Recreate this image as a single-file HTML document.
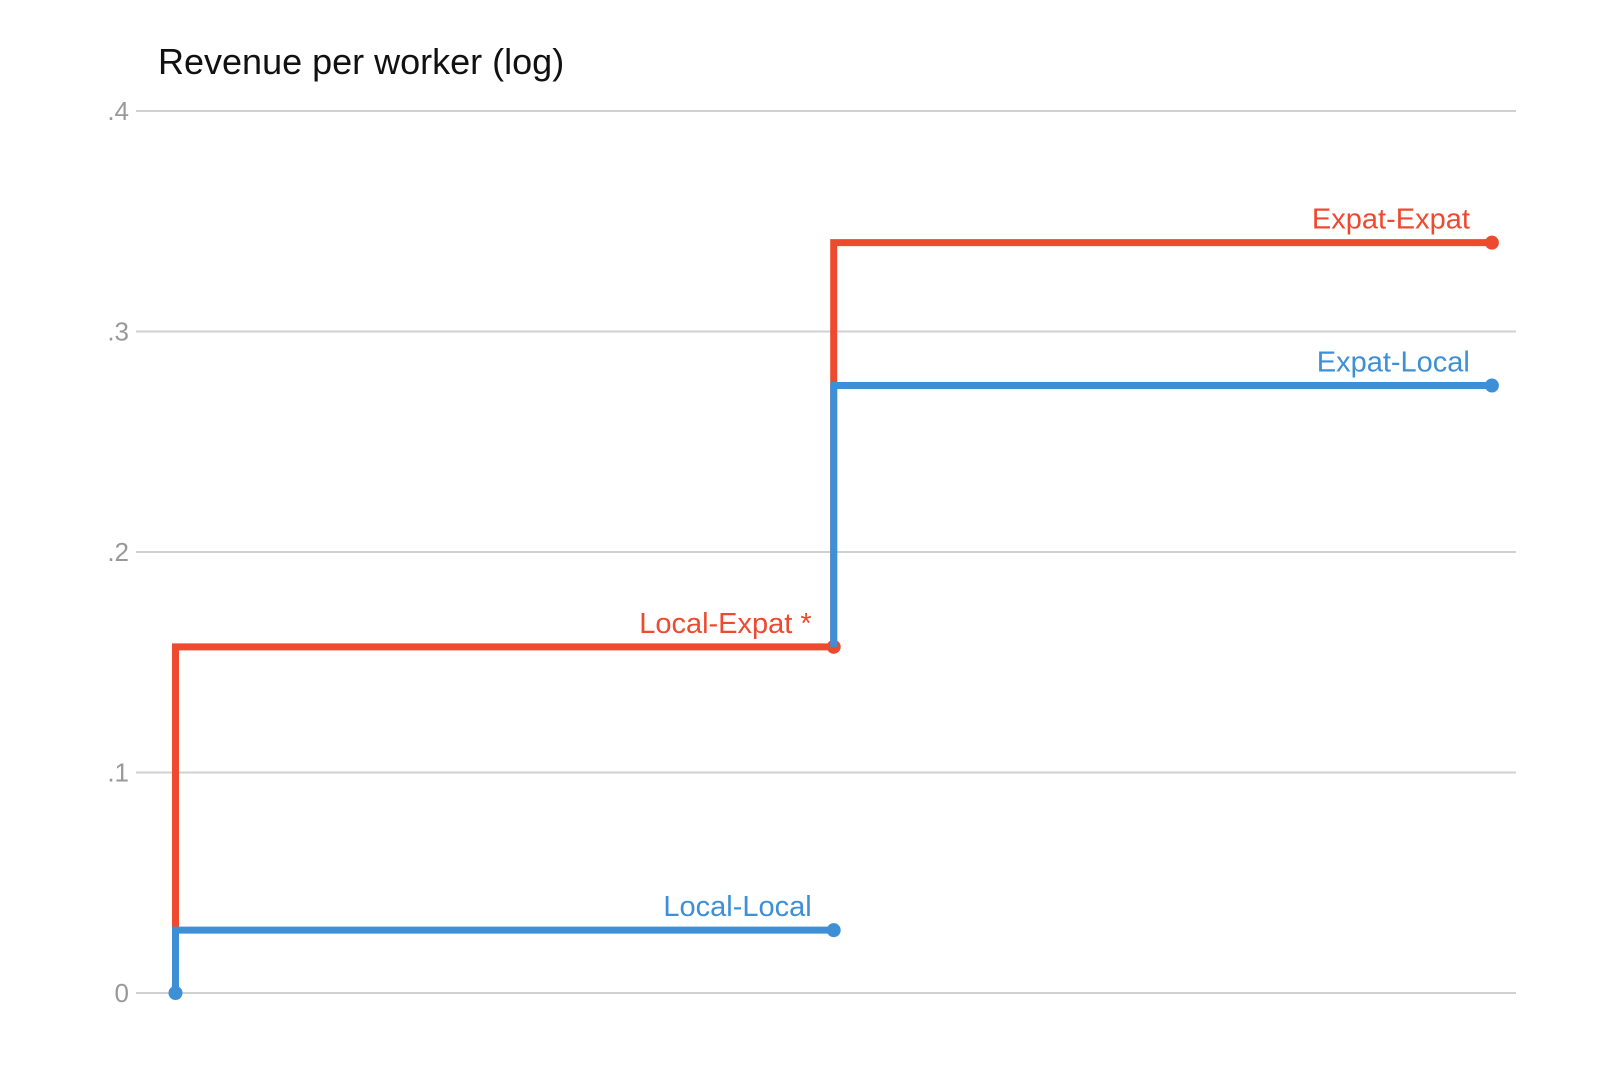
<!DOCTYPE html>
<html><head><meta charset="utf-8"><style>
html,body{margin:0;padding:0;background:#fff;}
svg{display:block;font-family:"Liberation Sans",Arial,sans-serif;}
</style></head><body>
<svg id="chart" width="1600" height="1066">
<text x="158" y="74" font-size="36" fill="#111">Revenue per worker (log)</text>
<g id="grid"></g><g id="series"></g><g id="labels"></g>
</svg>
<script>
const tickValues=[0,0.1,0.2,0.3,0.4];
const tickLabels=["0",".1",".2",".3",".4"];
const seriesNames=["Local-Local","Local-Expat *","Expat-Local","Expat-Expat"];
const seriesValues=[0.0285,0.157,0.2755,0.3403];
const seriesBase=[0,0.0285,0.157,0.157];
const seriesPos=[0,0,1,1];
const seriesColor=["#3d8fd6","#ee4a2f","#3d8fd6","#ee4a2f"];
const drawOrder=[1,3,0,2];
const NS="http://www.w3.org/2000/svg";
function y(v){return 993-v*2205;}
function x(i){return 175.5+i*658.2;}
function mk(tag,attrs,parent){const e=document.createElementNS(NS,tag);for(const k in attrs)e.setAttribute(k,attrs[k]);parent.appendChild(e);return e;}
const grid=document.getElementById('grid');
tickValues.forEach((v,i)=>{
  const l=mk('line',{x1:136,x2:1516,y1:y(v),y2:y(v),stroke:'#d0d0d0','stroke-width':2},grid);
  
  
  const t=mk('text',{x:129,y:y(v)+9,'font-size':26,fill:'#999','text-anchor':'end'},grid);
  t.textContent=tickLabels[i];
  
  
});
const ser=document.getElementById('series'),lab=document.getElementById('labels');
drawOrder.forEach(i=>{
  const x0=x(seriesPos[i]),x1=x(seriesPos[i]+1);
  const p=mk('path',{d:`M${x0},${y(seriesBase[i])}V${y(seriesValues[i])}H${x1}`,fill:'none',stroke:seriesColor[i],'stroke-width':7},ser);
  
  
  const c=mk('circle',{cx:x1,cy:y(seriesValues[i]),r:7,fill:seriesColor[i]},ser);
  
  
  const t=mk('text',{x:x1-22,y:y(seriesValues[i])-14,'font-size':29,fill:seriesColor[i],'text-anchor':'end'},lab);
  t.textContent=seriesNames[i];
  
  
});
const s=mk('circle',{cx:x(0),cy:y(0),r:7,fill:'#3d8fd6'},ser);


</script>
</body></html>
